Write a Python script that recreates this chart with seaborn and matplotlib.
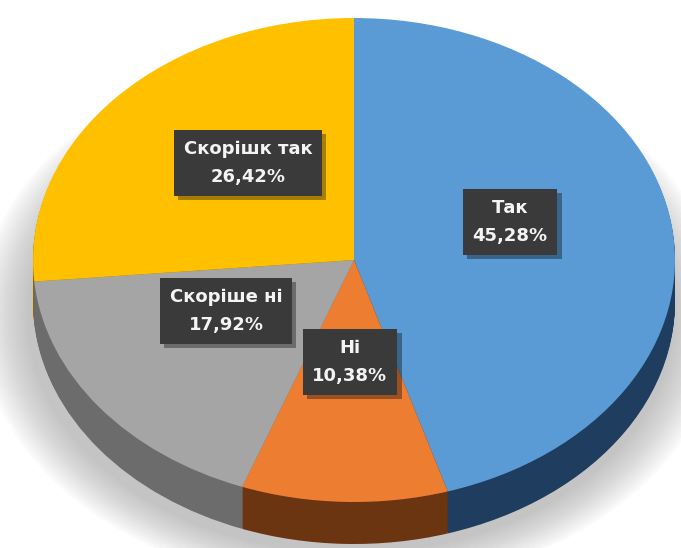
import matplotlib
matplotlib.use("Agg")
import matplotlib.pyplot as plt
import matplotlib.patheffects as pe
from matplotlib.patches import Ellipse
import seaborn as sns

# ---- data ----
categories = ["Так", "Ні", "Скоріше ні", "Скорішк так"]
values = [45.28, 10.38, 17.92, 26.42]

# ---- styles ----
top_colors = ["#5B9BD5", "#ED7D31", "#A5A5A5", "#FFC000"]
side_colors = ["#1F3D5E", "#6A3510", "#6C6C6C", "#8C6A00"]
label_px = [(510, 222), (350, 362), (226, 311), (248, 163)]

sns.set_theme(style="white")
plt.rcParams['font.family'] = ['DejaVu Sans']

W, H = 681, 548
fig = plt.figure(figsize=(W / 100, H / 100), dpi=100)
ax = fig.add_axes([0, 0, 1, 1])

cx, cy, rx, ry = 354, 260, 321, 242
depth = 42 / ry

def px2data(px, py):
    return (px - cx) / rx, (cy - py) / ry

# soft shadow (mostly below / left)
for i in range(16):
    s = 1.0 + 0.01 * (16 - i)
    ax.add_patch(Ellipse((-0.01, -depth - 0.06), 2 * s, 2 * s * 0.97,
                         facecolor="#7a7a7a", edgecolor="none", alpha=0.032, zorder=0))

# side (stacked layers)
n_layers = 40
for k in range(n_layers, 0, -1):
    off = depth * k / n_layers
    ax.pie(values, startangle=90, counterclock=False, colors=side_colors,
           center=(0, -off), radius=1.0,
           wedgeprops=dict(linewidth=0, antialiased=True), frame=False)

# top face
ax.pie(values, startangle=90, counterclock=False, colors=top_colors,
       center=(0, 0), radius=1.0,
       wedgeprops=dict(linewidth=0, antialiased=True), frame=False)

# labels
for cat, val, (lx, ly) in zip(categories, values, label_px):
    x, y = px2data(lx, ly)
    txt = f"{cat}\n{val:.2f}%".replace(".", ",")
    t = ax.text(x, y, txt, ha="center", va="center", color="#F4F4F4",
                fontsize=13, fontweight="bold", linespacing=1.75, zorder=10,
                bbox=dict(boxstyle="square,pad=0.55", fc="#3A3A3A", ec="none"))
    t.get_bbox_patch().set_path_effects([
        pe.SimplePatchShadow(offset=(3, -3), shadow_rgbFace="black", alpha=0.35),
        pe.Normal()])

ax.set_aspect("auto")
ax.set_xlim(-cx / rx, (W - cx) / rx)
ax.set_ylim((cy - H) / ry, cy / ry)
ax.axis("off")

fig.savefig("out.png", dpi=100, facecolor="white")
